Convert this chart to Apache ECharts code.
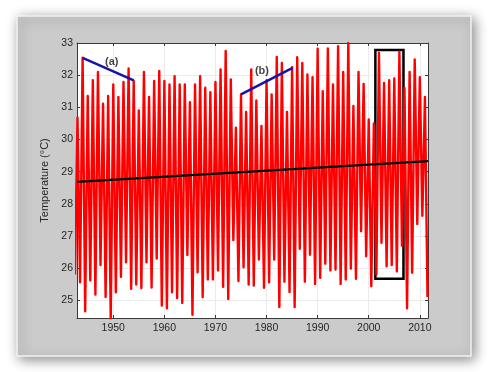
<!DOCTYPE html>
<html>
<head>
<meta charset="utf-8">
<script src="https://cdn.jsdelivr.net/npm/echarts@6/dist/echarts.min.js"></script>
<style>
html,body{margin:0;padding:0;background:#fff;}
#c{width:488px;height:372px;}
</style>
</head>
<body>
<div id="c"></div>
<script>
// ---- data ----
const years = [1943,1944,1945,1946,1947,1948,1949,1950,1951,1952,1953,1954,1955,1956,1957,1958,1959,1960,1961,1962,1963,1964,1965,1966,1967,1968,1969,1970,1971,1972,1973,1974,1975,1976,1977,1978,1979,1980,1981,1982,1983,1984,1985,1986,1987,1988,1989,1990,1991,1992,1993,1994,1995,1996,1997,1998,1999,2000,2001,2002,2003,2004,2005,2006,2007,2008,2009,2010,2011];
// annual maximum (early in each year)
const peakTemps = [30.68,32.54,31.35,31.84,32.10,31.11,31.35,31.71,31.32,31.79,32.21,31.82,30.90,32.10,31.32,31.82,32.13,31.82,31.71,31.97,31.71,31.71,31.16,31.71,31.97,31.61,31.47,31.79,32.18,32.75,31.87,30.37,31.40,30.86,32.18,31.21,30.42,31.84,31.40,32.57,32.38,30.86,32.25,32.56,32.38,32.02,31.94,32.82,31.50,32.83,31.71,32.90,32.10,33.00,31.04,32.10,31.73,30.62,30.50,32.70,31.76,31.84,31.90,32.73,31.60,32.10,32.49,31.94,31.32];
// annual minimum (mid-year), starting with the one just before 1943
const troughPrev = 25.8;
const troughTemps = [25.56,24.66,25.62,25.18,26.10,25.10,24.40,25.25,25.73,26.18,25.36,25.49,25.38,26.18,25.40,26.30,24.84,24.75,25.25,25.07,24.92,26.41,24.55,25.87,25.10,25.65,25.65,25.93,25.42,25.04,26.87,25.60,26.03,25.49,25.46,26.27,25.39,25.56,26.27,24.79,25.58,25.26,24.79,26.60,25.58,26.42,25.51,25.70,26.14,25.93,25.96,25.51,25.65,25.99,25.67,27.15,26.37,25.44,25.80,26.79,26.06,26.10,25.90,26.70,24.75,25.86,27.37,27.63,25.10];
const PEAK_PHASE = 0.0;   // fraction of the year
const TROUGH_PHASE = 0.5;

const xTicks = [1950,1960,1970,1980,1990,2000,2010];
const yTicks = [25,26,27,28,29,30,31,32,33];
const xRange = [1942.9, 2011.6];
const yRange = [24.45, 33];

const trendX = [1942.9, 2011.6];
const trendY = [28.68, 29.33];

const lineAX = [1944.0, 1954.0];
const lineAY = [32.54, 31.84];
const lineBX = [1975.0, 1985.1];
const lineBY = [31.40, 32.23];

const labelNames = ['(a)', '(b)'];
const labelX = [1949.7, 1979.1];
const labelY = [32.41, 32.13];

const boxX = [2001.3, 2006.8];
const boxY = [25.67, 32.78];

const yAxisTitle = 'Temperature (°C)';

// ---- build series data ----
const tempSeries = [[years[0] - 1 + TROUGH_PHASE, troughPrev]];
years.forEach((y, i) => {
  tempSeries.push([y + PEAK_PHASE, peakTemps[i]]);
  tempSeries.push([y + TROUGH_PHASE, troughTemps[i]]);
});

const font = 'Liberation Sans, Arial, sans-serif';
const axisCol = '#3a3a3a';

function xAx(pos, labels) {
  return {
    type: 'value', position: pos, min: xRange[0], max: xRange[1],
    axisLine: { show: true, onZero: false, lineStyle: { color: axisCol, width: 1 } },
    axisTick: { show: true, inside: true, length: 3, customValues: xTicks, lineStyle: { color: axisCol } },
    axisLabel: { show: labels, customValues: xTicks, formatter: v => String(v), margin: 5, color: '#262626', fontSize: 10.5, fontFamily: font },
    splitLine: { show: labels, lineStyle: { color: '#ebebeb', width: 1 } }
  };
}
function yAx(pos, labels) {
  return {
    type: 'value', position: pos, min: yRange[0], max: yRange[1],
    name: labels ? yAxisTitle : '', nameLocation: 'middle', nameGap: 20,
    nameTextStyle: { color: '#262626', fontSize: 11, fontFamily: font },
    axisLine: { show: true, onZero: false, lineStyle: { color: axisCol, width: 1 } },
    axisTick: { show: true, inside: true, length: 3, customValues: yTicks, lineStyle: { color: axisCol } },
    axisLabel: { show: labels, customValues: yTicks, formatter: v => String(v), margin: 4, color: '#262626', fontSize: 10.5, fontFamily: font },
    splitLine: { show: labels, lineStyle: { color: '#ebebeb', width: 1 } }
  };
}

const chart = echarts.init(document.getElementById('c'), null, { renderer: 'canvas' });
chart.setOption({
  animation: false,
  backgroundColor: '#ffffff',
  graphic: [{
    type: 'rect', z: -100, silent: true,
    shape: { x: 17, y: 16, width: 454, height: 340 },
    style: { fill: '#cbcbcb', stroke: '#f2f2f2', lineWidth: 1.5,
             shadowBlur: 12, shadowColor: 'rgba(0,0,0,0.45)', shadowOffsetX: 3, shadowOffsetY: 3 }
  }],
  grid: { left: 77, top: 43, width: 351, height: 275, show: true, backgroundColor: '#ffffff', borderWidth: 0 },
  xAxis: [xAx('bottom', true), xAx('top', false)],
  yAxis: [yAx('left', true), yAx('right', false)],
  series: [
    {
      type: 'line', name: 'temp', data: tempSeries, symbol: 'none', z: 2,
      lineStyle: { color: '#ff0000', width: 2.4, join: 'round' }
    },
    {
      type: 'line', name: 'trend', data: trendX.map((x, i) => [x, trendY[i]]), symbol: 'none', z: 3,
      lineStyle: { color: '#000000', width: 2.2 }
    },
    {
      type: 'line', name: 'a', data: lineAX.map((x, i) => [x, lineAY[i]]), symbol: 'none', z: 4,
      lineStyle: { color: '#1414a8', width: 2.5 }
    },
    {
      type: 'line', name: 'b', data: lineBX.map((x, i) => [x, lineBY[i]]), symbol: 'none', z: 4,
      lineStyle: { color: '#1414a8', width: 2.5 }
    },
    {
      type: 'line', name: 'box', data: [], z: 5,
      markArea: {
        silent: true,
        itemStyle: { color: 'rgba(0,0,0,0)', borderColor: '#000000', borderWidth: 2.5 },
        data: [[{ xAxis: boxX[0], yAxis: boxY[1] }, { xAxis: boxX[1], yAxis: boxY[0] }]]
      }
    },
    {
      type: 'scatter', name: 'labels', z: 6, symbolSize: 1,
      itemStyle: { color: 'rgba(0,0,0,0)' },
      data: labelNames.map((n, i) => ({ name: n, value: [labelX[i], labelY[i]] })),
      label: { show: true, position: 'inside', formatter: p => p.name, color: '#111', fontSize: 11, fontWeight: 'bold', fontFamily: font }
    }
  ]
});
</script>
</body>
</html>
